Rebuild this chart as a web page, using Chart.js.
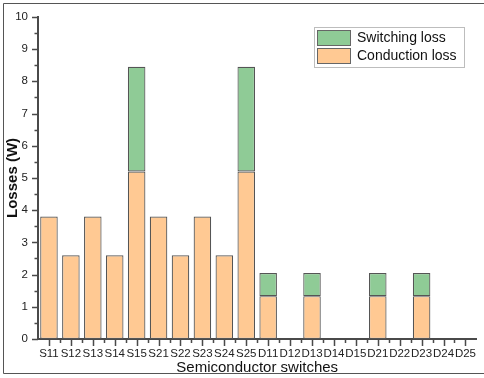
<!DOCTYPE html>
<html>
<head>
<meta charset="utf-8">
<script src="https://cdn.jsdelivr.net/npm/chart.js@4.4.1/dist/chart.umd.min.js"></script>
<style>
html,body{margin:0;padding:0;background:#fff;}
#wrap{width:484px;height:378px;position:relative;}
</style>
</head>
<body>
<div id="wrap"><canvas id="c" width="484" height="378"></canvas></div>
<script>
const categories = ['S11','S12','S13','S14','S15','S21','S22','S23','S24','S25','D11','D12','D13','D14','D15','D21','D22','D23','D24','D25'];
const conductionLoss = [3.8,2.6,3.8,2.6,5.2,3.8,2.6,3.8,2.6,5.2,1.33,0,1.33,0,0,1.33,0,1.33,0,0];
const switchingLoss  = [0,0,0,0,3.25,0,0,0,0,3.25,0.72,0,0.72,0,0,0.72,0,0.72,0,0];
const yTicks = [0,1,2,3,4,5,6,7,8,9,10];

const axisColor = '#4a4a4a';
const FONT = '"Liberation Sans", Arial, sans-serif';

const decor = {
  id: 'decor',
  beforeDraw(chart) {
    const ctx = chart.ctx;
    ctx.save();
    ctx.fillStyle = '#fff';
    ctx.fillRect(0, 0, chart.width, chart.height);
    ctx.restore();
  },
  afterDraw(chart) {
    const ctx = chart.ctx;
    const xs = chart.scales.x, ys = chart.scales.y;
    const ca = chart.chartArea;
    ctx.save();
    ctx.strokeStyle = axisColor;
    ctx.lineWidth = 1.5;
    ctx.beginPath();
    for (let v = 0; v <= 10.001; v += 0.5) {
      const py = Math.round(ys.getPixelForValue(v)) + 0.5;
      const major = Math.abs(v - Math.round(v)) < 1e-6;
      ctx.moveTo(ca.left, py);
      ctx.lineTo(ca.left - (major ? 6 : 3.5), py);
    }
    const step = xs.getPixelForValue(1) - xs.getPixelForValue(0);
    for (let i = 0; i < categories.length; i++) {
      const px = Math.round(xs.getPixelForValue(i)) + 0.5;
      ctx.moveTo(px, ca.bottom);
      ctx.lineTo(px, ca.bottom + 7);
      if (i > 0) {
        const pm = Math.round(xs.getPixelForValue(i) - step / 2) + 0.5;
        ctx.moveTo(pm, ca.bottom);
        ctx.lineTo(pm, ca.bottom + 4);
      }
    }
    ctx.stroke();

    // legend
    const lx = 314, ly = 27, lw = 150, lh = 40;
    ctx.fillStyle = '#fff';
    ctx.fillRect(lx, ly, lw, lh);
    ctx.strokeStyle = '#bdbdbd';
    ctx.lineWidth = 1;
    ctx.strokeRect(lx + 0.5, ly + 0.5, lw, lh);
    const items = [chart.data.datasets[1], chart.data.datasets[0]];
    items.forEach((ds, k) => {
      const sy = ly + 3 + k * 18;
      ctx.fillStyle = ds.backgroundColor;
      ctx.fillRect(lx + 3, sy, 33, 15);
      ctx.strokeStyle = '#666';
      ctx.strokeRect(lx + 3.5, sy + 0.5, 33, 15);
      ctx.fillStyle = '#111';
      ctx.font = '14px ' + FONT;
      ctx.textBaseline = 'middle';
      ctx.textAlign = 'left';
      ctx.fillText(ds.label, lx + 43, sy + 8);
    });

    // image frame
    ctx.strokeStyle = '#555';
    ctx.lineWidth = 1;
    ctx.beginPath();
    ctx.moveTo(486, 3.5);
    ctx.lineTo(3.5, 3.5);
    ctx.lineTo(3.5, 373.5);
    ctx.lineTo(486, 373.5);
    ctx.stroke();
    ctx.restore();
  }
};

new Chart(document.getElementById('c'), {
  type: 'bar',
  data: {
    labels: categories,
    datasets: [
      {
        label: 'Conduction loss',
        data: conductionLoss,
        backgroundColor: '#FFC993',
        borderColor: '#555',
        borderWidth: 1.2,
        borderSkipped: false,
        categoryPercentage: 1.0,
        barPercentage: 0.8
      },
      {
        label: 'Switching loss',
        data: switchingLoss,
        backgroundColor: '#8FCB96',
        borderColor: '#555',
        borderWidth: 1.2,
        borderSkipped: false,
        categoryPercentage: 1.0,
        barPercentage: 0.8
      }
    ]
  },
  options: {
    responsive: false,
    animation: false,
    devicePixelRatio: 1,
    layout: { padding: { top: 12, right: -2, left: 0, bottom: 0 } },
    plugins: { legend: { display: false }, tooltip: { enabled: false } },
    scales: {
      x: {
        stacked: true,
        grid: { display: false, drawTicks: false },
        border: { display: true, color: axisColor, width: 2 },
        ticks: {
          autoSkip: false, maxRotation: 0, minRotation: 0,
          color: '#222', padding: 8,
          font: { family: FONT, size: 11.5 }
        },
        title: {
          display: true, text: 'Semiconductor switches', color: '#111',
          font: { family: FONT, size: 15 }, padding: { top: 0, bottom: 1 }
        },
        afterFit(s) { s.height = 39; }
      },
      y: {
        stacked: true,
        min: 0, max: 10,
        afterBuildTicks(s) { s.ticks = yTicks.map(v => ({ value: v })); },
        grid: { display: false, drawTicks: false },
        border: { display: true, color: axisColor, width: 2 },
        ticks: {
          color: '#222', padding: 10,
          font: { family: FONT, size: 11.5 }
        },
        title: {
          display: true, text: 'Losses (W)', color: '#111',
          font: { family: FONT, size: 15, weight: 'bold' }, padding: { top: 4, bottom: 0 }
        },
        afterFit(s) { s.width = 38; }
      }
    }
  },
  plugins: [decor]
});
</script>
</body>
</html>
